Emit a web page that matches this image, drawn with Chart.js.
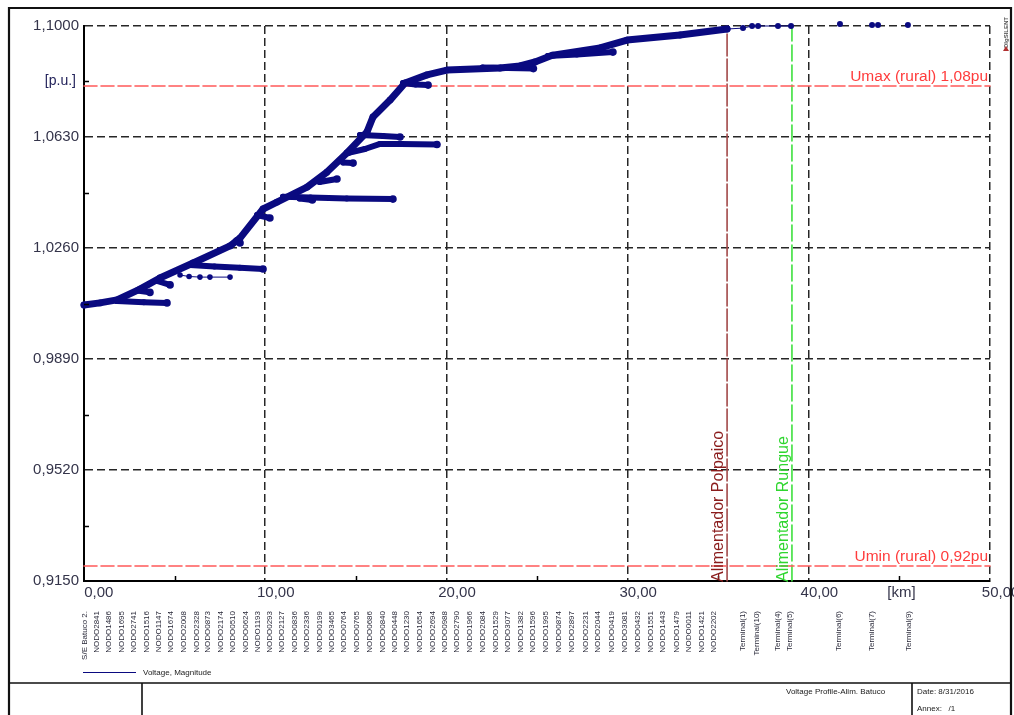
<!DOCTYPE html>
<html>
<head>
<meta charset="utf-8">
<title>Voltage Profile - Alim. Batuco</title>
<script src="https://cdn.jsdelivr.net/npm/chart.js@4.4.1/dist/chart.umd.min.js"></script>
<style>
  html, body { margin: 0; padding: 0; background: #fff; }
  canvas { display: block; }
</style>
</head>
<body>
<canvas id="profile" width="1014" height="715"></canvas>
<script>
// Axis ticks
const kmTicks = [0, 10, 20, 30, 40, 50];
const puTicks = [0.915, 0.952, 0.989, 1.026, 1.063, 1.100];

// Main feeder: distance [km] and voltage [p.u.]
const trunkKm = [0.00, 0.88, 1.82, 3.09, 4.19, 6.02, 8.06, 8.61, 9.88, 10.65, 12.31, 13.41, 14.51, 15.62, 15.95, 16.89, 17.72, 18.93, 20.03, 22.96, 24.06, 24.89, 25.88, 28.48, 29.97, 32.89, 35.49];
const trunkPu = [1.0070, 1.0077, 1.0087, 1.0123, 1.0160, 1.0210, 1.0267, 1.0293, 1.0390, 1.0413, 1.0463, 1.0513, 1.0577, 1.0647, 1.0697, 1.0753, 1.0810, 1.0837, 1.0853, 1.0860, 1.0867, 1.0880, 1.0903, 1.0927, 1.0953, 1.0970, 1.0990];

// Laterals, [km, p.u.] pairs
const lat01 = [[1.82, 1.0083], [3.30, 1.0079], [4.58, 1.0077]];
const lat02 = [[2.92, 1.0118], [3.64, 1.0112]];
const lat03 = [[4.03, 1.0150], [4.75, 1.0137]];
const lat05 = [[5.85, 1.0203], [7.20, 1.0198], [8.60, 1.0194], [9.88, 1.0190]];
const lat06 = [[8.40, 1.0285], [8.61, 1.0277]];
const lat07 = [[9.55, 1.0370], [10.26, 1.0360]];
const lat08 = [[10.98, 1.0431], [12.50, 1.0428], [14.50, 1.0425], [17.05, 1.0423]];
const lat09 = [[11.90, 1.0425], [12.60, 1.0420]];
const lat10 = [[13.00, 1.0480], [13.96, 1.0490]];
const lat11 = [[14.30, 1.0545], [14.85, 1.0543]];
const lat12 = [[15.23, 1.0637], [16.50, 1.0633], [17.44, 1.0630]];
const lat13 = [[14.60, 1.0577], [15.50, 1.0590], [16.34, 1.0607], [17.50, 1.0607], [19.48, 1.0605]];
const lat14 = [[17.60, 1.0810], [18.30, 1.0805], [18.99, 1.0803]];
const lat15 = [[22.00, 1.0862], [24.80, 1.0858]];
const lat16 = [[25.60, 1.0900], [27.20, 1.0905], [29.19, 1.0913]];
const laterals = [lat01, lat02, lat03, lat05, lat06, lat07, lat08, lat09, lat10, lat11, lat12, lat13, lat14, lat15, lat16];

// Thin branch with sparse nodes
const thinBranch = [[5.30, 1.0170], [5.80, 1.0165], [6.40, 1.0163], [6.95, 1.0163], [8.06, 1.0163]];

// Tail towards the terminals
const terminalKm = [35.49, 36.37, 36.87, 37.20, 38.30, 39.02];
const terminalPu = [1.0990, 1.0993, 1.1000, 1.1000, 1.1000, 1.1000];
const remoteKm = [41.72, 43.49, 43.82, 45.47];
const remotePu = [1.1007, 1.1003, 1.1003, 1.1003];

// Voltage limits
const limitPu = [1.08, 0.92];
const limitText = ['Umax (rural) 1,08pu', 'Umin (rural) 0,92pu'];

// Feeder boundaries
const feederKm = [35.49, 39.07];
const feederText = ['Alimentador Polpaico', 'Alimentador Rungue'];
const feederColor = ['#a24848', '#3ee03e'];
const feederTextColor = ['#8a1c1c', '#2fd62f'];

// Node names along the x axis
const nodeNames = ['S/E Batuco 2.', 'NODO2841', 'NODO1486', 'NODO1695', 'NODO2741', 'NODO1516', 'NODO1147', 'NODO1674', 'NODO2008', 'NODO2328', 'NODO0873', 'NODO2174', 'NODO0510', 'NODO0624', 'NODO1193', 'NODO0293', 'NODO2127', 'NODO0836', 'NODO2336', 'NODO0199', 'NODO3465', 'NODO0764', 'NODO0765', 'NODO0686', 'NODO0840', 'NODO0448', 'NODO1230', 'NODO1654', 'NODO2694', 'NODO0988', 'NODO2790', 'NODO1966', 'NODO2084', 'NODO1529', 'NODO3077', 'NODO1382', 'NODO1596', 'NODO1995', 'NODO0874', 'NODO2897', 'NODO2231', 'NODO2044', 'NODO0419', 'NODO3081', 'NODO0432', 'NODO1551', 'NODO1443', 'NODO1479', 'NODO0011', 'NODO1421', 'NODO2202', 'Terminal(1)', 'Terminal(10)', 'Terminal(4)', 'Terminal(5)', 'Terminal(6)', 'Terminal(7)', 'Terminal(9)'];
const nodeKm = [0.05, 0.72, 1.38, 2.10, 2.76, 3.48, 4.14, 4.80, 5.52, 6.24, 6.84, 7.56, 8.22, 8.94, 9.60, 10.26, 10.93, 11.65, 12.31, 13.02, 13.69, 14.35, 15.07, 15.78, 16.50, 17.16, 17.83, 18.54, 19.26, 19.92, 20.58, 21.30, 22.02, 22.74, 23.40, 24.12, 24.78, 25.50, 26.21, 26.93, 27.70, 28.37, 29.14, 29.86, 30.57, 31.29, 31.95, 32.73, 33.39, 34.11, 34.77, 36.37, 37.14, 38.30, 38.96, 41.67, 43.49, 45.53];

const NAVY = '#0a0a80';
const pairs = list => list.map(p => ({ x: p[0], y: p[1] }));
const zip = (a, b) => a.map((v, i) => ({ x: v, y: b[i] }));
// end nodes of a lateral are drawn a little larger than the line
const endDot = c => (c.dataIndex === c.dataset.data.length - 1 ? 3.8 : 3);

const base = { borderColor: NAVY, backgroundColor: NAVY, pointBorderWidth: 0, order: 0 };
const datasets = [];
datasets.push({ ...base, data: zip(trunkKm, trunkPu), borderWidth: 7, pointRadius: 3.4 });
laterals.forEach(l => datasets.push({ ...base, data: pairs(l), borderWidth: 6, pointRadius: endDot }));
datasets.push({ ...base, data: pairs(thinBranch), borderWidth: 1, pointRadius: 2.8 });
datasets.push({ ...base, data: zip(terminalKm, terminalPu), borderWidth: 1, pointRadius: 3 });
datasets.push({ ...base, data: zip(remoteKm, remotePu), showLine: false, pointRadius: 3 });
limitPu.forEach(v => datasets.push({ data: [{ x: 0, y: v }, { x: 50, y: v }], borderColor: '#ff5a5a', borderWidth: 1.6, borderDash: [13, 4], pointRadius: 0, order: 5 }));
feederKm.forEach((k, i) => datasets.push({ data: [{ x: k, y: 0.915 }, { x: k, y: 1.1 }], borderColor: feederColor[i], borderWidth: 1.6, borderDash: i ? [16, 4] : [22, 3], pointRadius: 0, order: 5 }));

const fmtKm = v => v.toFixed(2).replace('.', ',');
const fmtPu = v => Number(v).toFixed(4).replace('.', ',');

const annotations = {
  id: 'annotations',
  afterDraw(chart) {
    const { ctx, chartArea: a, scales: { x, y } } = chart;
    ctx.save();

    // minor ticks
    ctx.strokeStyle = '#000';
    ctx.lineWidth = 1.5;
    ctx.beginPath();
    for (let i = 0; i < kmTicks.length - 1; i++) {
      const px = Math.round(x.getPixelForValue((kmTicks[i] + kmTicks[i + 1]) / 2)) + 0.5;
      ctx.moveTo(px, a.bottom); ctx.lineTo(px, a.bottom - 5);
    }
    for (let i = 0; i < puTicks.length - 1; i++) {
      const py = Math.round(y.getPixelForValue((puTicks[i] + puTicks[i + 1]) / 2)) + 0.5;
      ctx.moveTo(a.left, py); ctx.lineTo(a.left + 5, py);
    }
    ctx.stroke();

    // x tick labels, comma aligned just right of the tick
    ctx.font = '15px "Liberation Sans", Arial, sans-serif';
    ctx.fillStyle = '#34344a';
    ctx.textBaseline = 'middle';
    ctx.textAlign = 'left';
    kmTicks.forEach(v => {
      const s = fmtKm(v);
      const intW = ctx.measureText(s.split(',')[0]).width;
      ctx.fillText(s, x.getPixelForValue(v) + 8.5 - intW, a.bottom + 12);
    });
    ctx.textAlign = 'center';
    ctx.fillText('[km]', x.getPixelForValue(45) + 2, a.bottom + 12);

    // unit label on y axis
    ctx.font = '14px "Liberation Sans", Arial, sans-serif';
    ctx.fillStyle = '#22225a';
    ctx.textAlign = 'right';
    ctx.fillText('[p.u.]', a.left - 8, y.getPixelForValue((puTicks[4] + puTicks[5]) / 2));

    // limit captions
    ctx.font = '15.5px "Liberation Sans", Arial, sans-serif';
    ctx.fillStyle = '#ff3c3c';
    ctx.textAlign = 'right';
    ctx.textBaseline = 'alphabetic';
    limitPu.forEach((v, i) => ctx.fillText(limitText[i], a.right - 2, y.getPixelForValue(v) - 5.5));

    // feeder captions
    ctx.font = '16px "Liberation Sans", Arial, sans-serif';
    feederKm.forEach((k, i) => {
      ctx.save();
      ctx.translate(x.getPixelForValue(k) - 4, a.bottom + 1);
      ctx.rotate(-Math.PI / 2);
      ctx.textAlign = 'left';
      ctx.fillStyle = feederTextColor[i];
      ctx.fillText(feederText[i], 0, 0);
      ctx.restore();
    });

    // node names
    ctx.font = '8px "Liberation Sans", Arial, sans-serif';
    ctx.fillStyle = '#2a2a3a';
    nodeNames.forEach((n, i) => {
      ctx.save();
      ctx.translate(x.getPixelForValue(nodeKm[i]), 611);
      ctx.rotate(-Math.PI / 2);
      ctx.textAlign = 'right';
      ctx.textBaseline = 'middle';
      ctx.fillText(n, 0, 0);
      ctx.restore();
    });

    // legend
    ctx.strokeStyle = NAVY;
    ctx.lineWidth = 1.2;
    ctx.beginPath();
    ctx.moveTo(83, 672.5); ctx.lineTo(136, 672.5);
    ctx.stroke();
    ctx.fillStyle = '#1a1a1a';
    ctx.textAlign = 'left';
    ctx.textBaseline = 'middle';
    ctx.fillText('Voltage, Magnitude', 143, 673);

    // sheet frame and title block
    ctx.strokeStyle = '#111';
    ctx.lineWidth = 2.2;
    ctx.beginPath();
    ctx.moveTo(9, 716); ctx.lineTo(9, 8); ctx.lineTo(1011, 8); ctx.lineTo(1011, 716);
    ctx.stroke();
    ctx.lineWidth = 1.6;
    ctx.beginPath();
    ctx.moveTo(9, 683); ctx.lineTo(1011, 683);
    ctx.moveTo(142, 683); ctx.lineTo(142, 715);
    ctx.moveTo(912, 683); ctx.lineTo(912, 715);
    ctx.stroke();
    ctx.fillStyle = '#1a1a1a';
    ctx.fillText('Voltage Profile-Alim. Batuco', 786, 692);
    ctx.fillText('Date: 8/31/2016', 917, 692);
    ctx.fillText('Annex:   /1', 917, 709);

    // software mark
    ctx.save();
    ctx.translate(1006, 48);
    ctx.rotate(-Math.PI / 2);
    ctx.font = 'bold 6px "Liberation Sans", Arial, sans-serif';
    ctx.fillStyle = '#555';
    ctx.textAlign = 'left';
    ctx.fillText('DIgSILENT', 0, 0);
    ctx.restore();
    ctx.fillStyle = '#b03030';
    ctx.beginPath();
    ctx.moveTo(1003, 51); ctx.lineTo(1009, 51); ctx.lineTo(1006, 46);
    ctx.fill();

    ctx.restore();
  }
};

new Chart(document.getElementById('profile'), {
  type: 'scatter',
  data: { datasets },
  options: {
    responsive: false,
    animation: false,
    showLine: true,
    clip: 8,
    layout: { padding: { top: 26, right: 24, left: 0, bottom: 0 } },
    plugins: { legend: { display: false }, tooltip: { enabled: false } },
    elements: { point: { borderWidth: 0, hoverRadius: 0 }, line: { tension: 0, borderJoinStyle: 'round', borderCapStyle: 'round' } },
    scales: {
      x: {
        type: 'linear', min: 0, max: 50,
        afterBuildTicks: s => { s.ticks = kmTicks.map(v => ({ value: v })); },
        afterFit: s => { s.height = 134; },
        ticks: { display: false },
        grid: { color: '#262626', lineWidth: 1.5, drawTicks: false },
        border: { display: true, color: '#000', width: 2, dash: [8, 4] }
      },
      y: {
        min: 0.915, max: 1.1,
        afterBuildTicks: s => { s.ticks = puTicks.map(v => ({ value: v })); },
        afterFit: s => { s.width = 84; },
        ticks: { callback: v => fmtPu(v), color: '#34344a', padding: 5, font: { family: '"Liberation Sans", Arial, sans-serif', size: 15 } },
        grid: { color: '#262626', lineWidth: 1.5, drawTicks: false },
        border: { display: true, color: '#000', width: 2, dash: [8, 4] }
      }
    }
  },
  plugins: [annotations]
});
</script>
</body>
</html>
